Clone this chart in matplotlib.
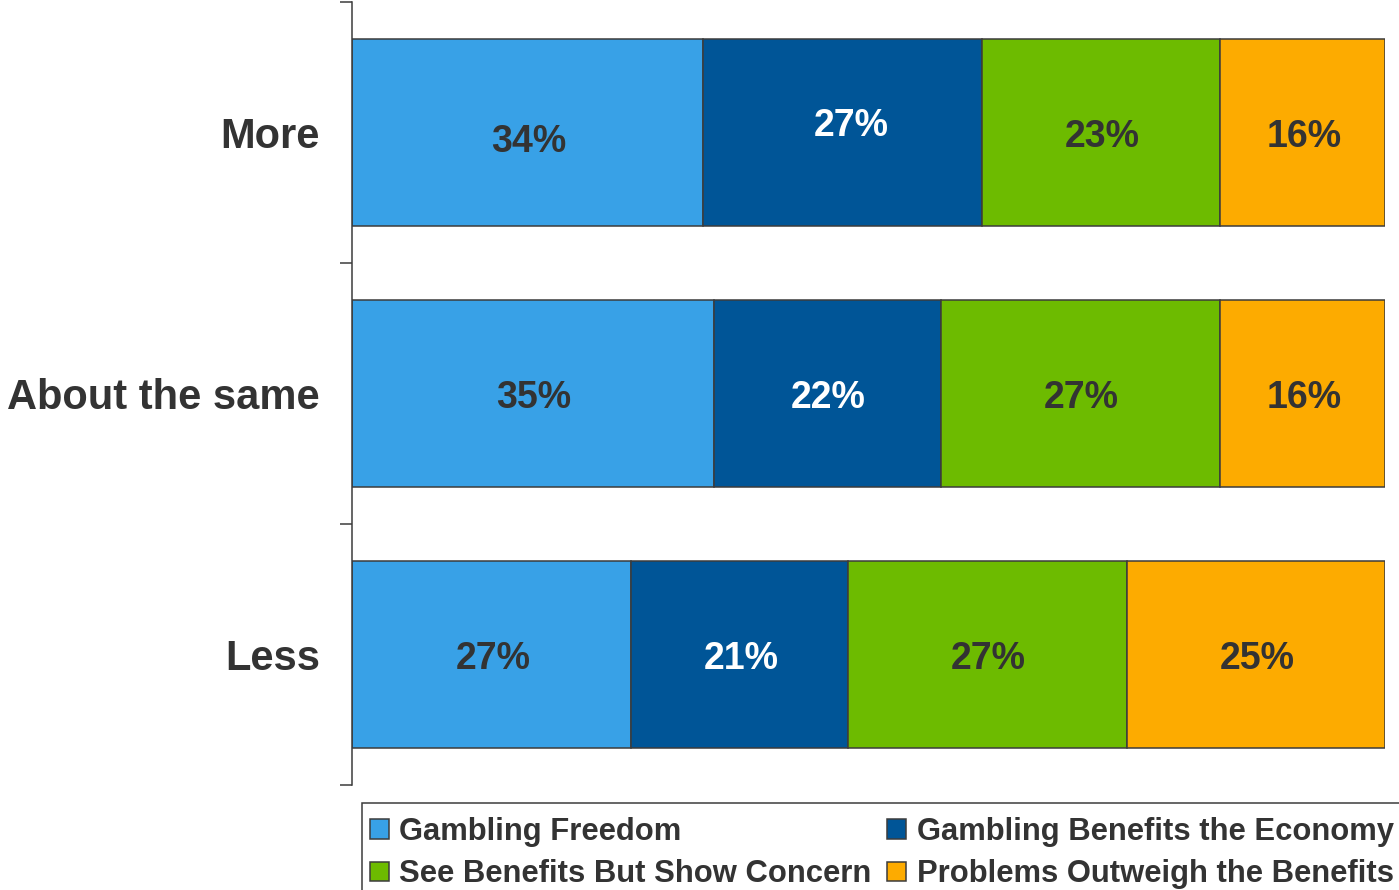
import matplotlib.pyplot as plt
from matplotlib.patches import Rectangle

plt.rcParams['font.family'] = ['Liberation Sans', 'DejaVu Sans']
plt.rcParams['font.weight'] = 'bold'

groups = ['More', 'About the same', 'Less']
series = ['Gambling Freedom', 'Gambling Benefits the Economy',
          'See Benefits But Show Concern', 'Problems Outweigh the Benefits']
freedom = [34, 35, 27]
economy = [27, 22, 21]
concern = [23, 27, 27]
problems = [16, 16, 25]

colors = ['#38a1e7', '#005597', '#6dbb00', '#fdab00']
label_colors = ['#333333', 'white', '#333333', '#333333']
text_gray = '#333333'
edge = '#3c3c3c'

# small nudges (points) for the labels of the top bar
nudge = {(0, 0): (0, -4), (0, 1): (5, 8)}

fig = plt.figure(figsize=(13.99, 8.90), dpi=100)
ax = fig.add_axes([352 / 1399, 1 - 785 / 890, 1033 / 1399, 783 / 890])

values = [freedom, economy, concern, problems]
ypos = list(range(len(groups)))
left = [0] * len(groups)
bars = []
for s, (name, vals) in enumerate(zip(series, values)):
    b = ax.barh(ypos, vals, left=left, height=0.72, color=colors[s],
                edgecolor=edge, linewidth=1.1, label=name)
    bars.append(b)
    for g, v in enumerate(vals):
        dx, dy = nudge.get((g, s), (0, 0))
        ax.annotate(f'{v}%', (left[g] + v / 2, g), xytext=(dx + 1, dy - 3),
                    textcoords='offset points', ha='center', va='center',
                    fontsize=27, fontweight='bold', color=label_colors[s])
    left = [l + v for l, v in zip(left, vals)]

ax.set_xlim(0, 100)
ax.set_ylim(len(groups) - 0.5, -0.5)
ax.set_xticks([])
ax.set_yticks([i - 0.5 for i in range(len(groups) + 1)])
ax.set_yticklabels([])
ax.set_yticks(ypos, minor=True)
ax.set_yticklabels(groups, minor=True, fontsize=30, fontweight='bold',
                   color=text_gray)
ax.tick_params(axis='y', which='major', length=8.6, width=1.1, color=edge)
ax.tick_params(axis='y', which='minor', length=0, pad=23)
for side in ['top', 'right', 'bottom']:
    ax.spines[side].set_visible(False)
ax.spines['left'].set_color(edge)
ax.spines['left'].set_linewidth(1.1)

# legend frame runs off the right and bottom edges
fig.patches.append(Rectangle((362 / 1399, -0.05), 1.1, 0.05 + (890 - 803) / 890,
                             transform=fig.transFigure, fill=False,
                             edgecolor=edge, linewidth=1.1))
order = [0, 2, 1, 3]
handles = [bars[i] for i in order]
labels = [series[i] for i in order]
fig.legend(handles, labels, loc='upper left', ncol=2,
           bbox_to_anchor=(370 / 1399, 1 - 817 / 890), frameon=False,
           prop={'size': 22.3, 'weight': 'bold'}, labelcolor=text_gray,
           handlelength=0.6, handleheight=0.6, handletextpad=0.35,
           columnspacing=0.5, labelspacing=0.4, borderpad=0, borderaxespad=0)

fig.savefig('out.png', dpi=100)
